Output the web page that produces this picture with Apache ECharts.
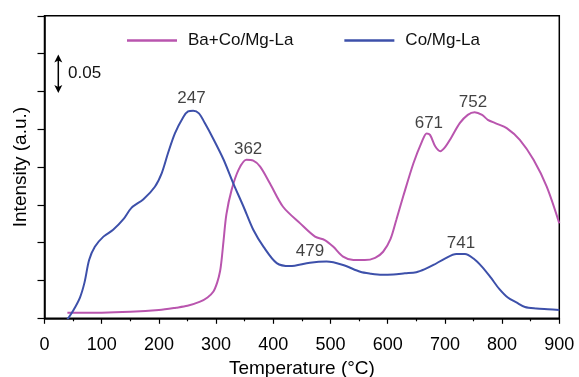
<!DOCTYPE html>
<html>
<head>
<meta charset="utf-8">
<script src="https://cdn.jsdelivr.net/npm/echarts@6/dist/echarts.min.js"></script>
<style>html,body{margin:0;padding:0;background:#fff}#c{width:579px;height:377px}</style>
</head>
<body>
<div id="c"></div>
<script>
// Ba+Co/Mg-La (pink)
var tempsBa = [40,100,150,200,230,250,272,285,295,302,307,310,313,318,327,339,353,365,377,394,417,447,473,490,505,522,540,560,578,592,605,615,627,645,660,668,674,683,692,700,710,726,740,752,765,775,790,808,831,855,878,900];
var valsBa  = [0.15,0.15,0.17,0.22,0.28,0.33,0.44,0.55,0.70,0.95,1.25,1.6,2.05,2.75,3.39,3.92,4.19,4.17,4.01,3.57,2.95,2.51,2.16,2.07,1.89,1.63,1.54,1.54,1.6,1.76,2.1,2.6,3.22,4.1,4.68,4.89,4.85,4.55,4.42,4.52,4.75,5.16,5.38,5.45,5.38,5.25,5.15,5.03,4.72,4.19,3.48,2.51];
// Co/Mg-La (blue)
var tempsCo = [40,50,62,70,78,88,103,120,138,152,173,193,205,216,228,243,251,260,270,280,295,313,330,348,365,383,406,429,464,493,522,552,570,590,610,630,650,665,680,700,720,735,750,765,780,795,810,825,840,860,880,900];
var valsCo  = [-0.03,0.2,0.55,0.95,1.54,1.89,2.16,2.34,2.62,2.92,3.15,3.48,3.84,4.37,4.89,5.33,5.47,5.49,5.42,5.17,4.75,4.2,3.57,2.95,2.34,1.89,1.46,1.38,1.47,1.5,1.41,1.23,1.18,1.15,1.16,1.19,1.22,1.3,1.41,1.58,1.70,1.70,1.58,1.36,1.08,0.78,0.55,0.42,0.3,0.26,0.24,0.22];
// peak annotations: label text and where it sits
var peakLabels = ['247','362','479','671','752','741'];
var peakX = [257,356,464,672,749,728];
var peakY = [5.81,4.48,1.76,5.15,5.72,1.99];
var xTicks = [0,100,200,300,400,500,600,700,800,900];

var seriesNames = ['Ba+Co/Mg-La','Co/Mg-La'];
var colors = ['#B955AE','#3D50AA'];

function zip(a,b){return a.map(function(v,i){return [v,b[i]];});}
var peakData = peakLabels.map(function(l,i){return [peakX[i],peakY[i],l];});

var font = 'Liberation Sans, Arial, sans-serif';
var chart = echarts.init(document.getElementById('c'));
chart.setOption({
  animation:false,
  backgroundColor:'#fff',
  grid:{left:44.5,right:19.7,top:15.8,bottom:58.7,show:true,borderColor:'#000',borderWidth:1.5,containLabel:false,outerBoundsMode:'none'},
  legend:{
    data:[{name:seriesNames[0],icon:'rect'},{name:seriesNames[1],icon:'rect'}],
    left:122, top:27, itemWidth:50, itemHeight:2.5, itemGap:51,
    textStyle:{fontFamily:font,fontSize:17,color:'#111',padding:[0,0,0,6]}
  },
  xAxis:{
    type:'value',min:0,max:900,interval:100,
    name:'Temperature (°C)',nameLocation:'middle',nameGap:41,
    nameTextStyle:{fontFamily:font,fontSize:19,color:'#000'},
    axisLine:{lineStyle:{color:'#000',width:1.5}},
    axisTick:{inside:false,length:5.5,lineStyle:{color:'#000',width:1.2}},
    minorTick:{show:true,splitNumber:2,length:3,lineStyle:{color:'#000',width:1.2}},
    axisLabel:{fontFamily:font,fontSize:18,color:'#000',margin:18,
      formatter:function(v){return xTicks.indexOf(v)>=0?String(v):'';}},
    splitLine:{show:false}
  },
  yAxis:{
    type:'value',min:0,max:8,interval:1,
    name:'Intensity (a.u.)',nameLocation:'middle',nameGap:14,nameRotate:90,
    nameTextStyle:{fontFamily:font,fontSize:19,color:'#000'},
    axisLine:{lineStyle:{color:'#000',width:1.5}},
    axisTick:{inside:false,length:7,lineStyle:{color:'#000',width:1.2}},
    axisLabel:{show:false},
    splitLine:{show:false}
  },
  series:[
    {name:seriesNames[0],type:'line',data:zip(tempsBa,valsBa),smooth:0.3,showSymbol:false,
     lineStyle:{color:colors[0],width:2},itemStyle:{color:colors[0]},clip:true},
    {name:seriesNames[1],type:'line',data:zip(tempsCo,valsCo),smooth:0.3,showSymbol:false,
     lineStyle:{color:colors[1],width:2},itemStyle:{color:colors[1]},clip:true},
    {name:'peaks',type:'scatter',data:peakData,symbolSize:0,silent:true,
     label:{show:true,position:'inside',fontFamily:font,fontSize:17,color:'#111',
       formatter:function(p){return p.value[2];}}}
  ],
  graphic:[
    {type:'line',shape:{x1:58.3,y1:60,x2:58.3,y2:88},style:{stroke:'#000',lineWidth:1.5}},
    {type:'polygon',shape:{points:[[58.3,54.5],[54.3,62.5],[58.3,60.5],[62.3,62.5]]},style:{fill:'#000'}},
    {type:'polygon',shape:{points:[[58.3,93],[54.3,85],[58.3,87],[62.3,85]]},style:{fill:'#000'}},
    {type:'text',left:68,top:64.5,style:{text:'0.05',font:'17px '+font,fill:'#111'}}
  ]
});
</script>
</body>
</html>
